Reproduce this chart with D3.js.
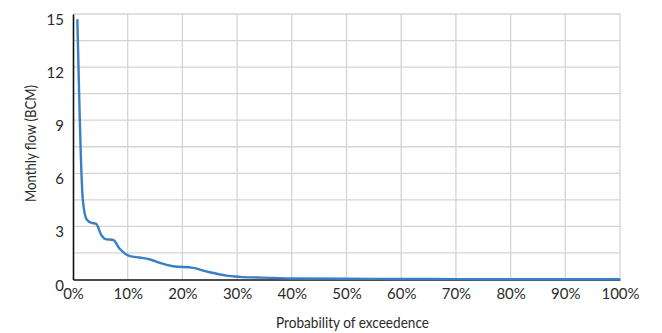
<!DOCTYPE html>
<html><head><meta charset="utf-8">
<script src="https://cdn.jsdelivr.net/npm/d3@7"></script>
<style>
body{margin:0;background:#fff;}
svg text{font-family:"Lato","Roboto",sans-serif;fill:#2b2b2b;}
</style></head><body>
<svg id="c" width="662" height="333"></svg>
<script>
const probability = [0.8, 1.6, 1.8, 2.5, 3.4, 4.2, 5.2, 5.85, 7.4, 8.5, 10.4, 12.2, 14.1, 15.9, 18.3, 22, 23.8, 25, 28, 30.5, 34, 40, 50, 60, 70, 80, 90, 100];
const flow =        [14.7, 5.6, 4.48, 3.39, 3.2, 3.16, 2.5, 2.3, 2.22, 1.75, 1.32, 1.24, 1.13, 0.94, 0.75, 0.66, 0.5, 0.41, 0.22, 0.15, 0.11, 0.06, 0.04, 0.03, 0.02, 0.015, 0.01, 0.01];
const xTicks = [0,10,20,30,40,50,60,70,80,90,100];
const yTicks = [0,3,6,9,12,15];
const yGrid = [1.5,3,4.5,6,7.5,9,10.5,12,13.5,15];

const svg = d3.select("#c");
const x = d3.scaleLinear().domain([0,100]).range([73,620]);
const y = d3.scaleLinear().domain([0,15]).range([279.5,14]);

// grid
svg.append("g").selectAll("line").data(yGrid).join("line")
  .attr("x1",x(0)).attr("x2",x(100)).attr("y1",d=>y(d)).attr("y2",d=>y(d))
  .attr("stroke","#d4d4d4").attr("stroke-width",1.3);
svg.append("g").selectAll("line").data(xTicks.slice(1)).join("line")
  .attr("x1",d=>x(d)).attr("x2",d=>x(d)).attr("y1",y(0)).attr("y2",y(15))
  .attr("stroke","#d4d4d4").attr("stroke-width",1.3);

// axes
const xAxis = d3.axisBottom(x).tickValues(xTicks).tickFormat(d=>d+"%").tickSize(0).tickPadding(9);
const gx = svg.append("g").attr("transform",`translate(0,${y(0)})`).call(xAxis);
gx.select(".domain").attr("stroke","#111").attr("stroke-width",1.6);
gx.selectAll("text").attr("font-size",15).attr("fill","#2b2b2b");

const yAxis = d3.axisLeft(y).tickValues(yTicks).tickSize(0).tickPadding(9);
const gy = svg.append("g").attr("transform",`translate(${x(0)},0)`).call(yAxis);
gy.select(".domain").attr("stroke","#111").attr("stroke-width",1.6);
gy.selectAll("text").attr("font-size",15).attr("dy","0.7em").attr("fill","#2b2b2b");
gx.attr("font-family",null); gy.attr("font-family",null);

// line
svg.append("path").datum(probability.map((p,i)=>[p,flow[i]]))
  .attr("fill","none").attr("stroke","#3a7ec6").attr("stroke-width",2.4)
  .attr("stroke-linejoin","round")
  .attr("d",d3.line().x(d=>x(d[0])).y(d=>y(d[1])).curve(d3.curveMonotoneX));

// labels
svg.append("text").attr("x",352.5).attr("y",327.5).attr("text-anchor","middle")
  .attr("font-size",15).attr("textLength",153).attr("lengthAdjust","spacingAndGlyphs")
  .text("Probability of exceedence");
svg.append("text").attr("transform",`translate(35.5,143.5) rotate(-90)`).attr("text-anchor","middle")
  .attr("font-size",15).attr("textLength",117).attr("lengthAdjust","spacingAndGlyphs")
  .text("Monthly flow (BCM)");
</script></body></html>
